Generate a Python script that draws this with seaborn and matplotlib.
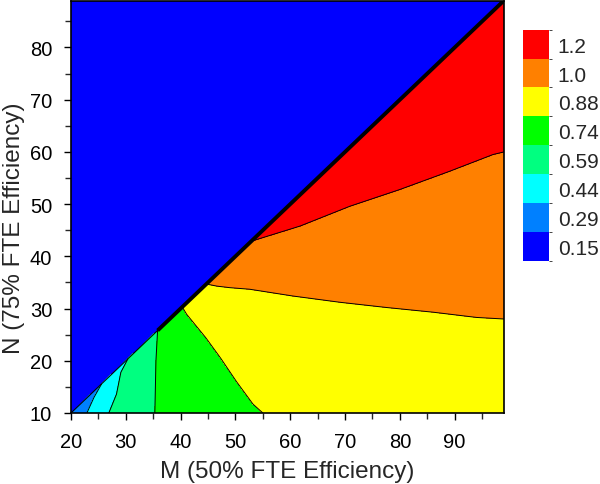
import numpy as np
import matplotlib
matplotlib.use("Agg")
import matplotlib.pyplot as plt
import matplotlib.tri as mtri
from matplotlib.colors import BoundaryNorm, ListedColormap
from matplotlib.cm import ScalarMappable
import seaborn as sns

# contour levels, legend labels and band colours (bottom to top)
levels = [0.15, 0.29, 0.44, 0.59, 0.74, 0.88, 1.0, 1.2, 2.0]
level_labels = ["0.15", "0.29", "0.44", "0.59", "0.74", "0.88", "1.0", "1.2"]
band_colors = ["#0000FF", "#0080FF", "#00FFFF", "#00FF80",
               "#00FF00", "#FFFF00", "#FF8000", "#FF0000"]

# values: points (M, N) on each contour line
c044_m = [22.9, 24.2, 25.6]
c044_n = [10.0, 13.0, 15.6]
c059_m = [26.9, 28.3, 29.1, 30.4]
c059_n = [10.0, 13.6, 17.8, 20.4]
c074_m = [35.3, 35.4, 35.5, 35.8]
c074_n = [10.0, 15.0, 20.0, 25.8]
c088_m = [55.0, 53.2, 52.9, 50.2, 49.6, 47.3, 44.6, 41.1, 40.3]
c088_n = [10.0, 11.7, 14.6, 16.0, 17.8, 20.5, 24.4, 28.9, 30.3]
c100_m = [44.7, 46.6, 49.0, 52.6, 60.5, 69.1, 77.6, 86.1, 94.0, 99.0]
c100_n = [34.7, 34.3, 34.0, 33.7, 32.4, 31.2, 30.2, 29.3, 28.3, 28.0]
c120_m = [52.9, 61.8, 70.9, 80.0, 89.1, 97.0, 99.0]
c120_n = [42.9, 45.8, 49.6, 52.8, 56.3, 59.5, 60.0]

# corners of the computed (lower) triangle and their estimated values
edge_m = [20.0, 99.0, 99.0, 75.0]
edge_n = [10.0, 10.0, 89.0, 65.0]
edge_z = [0.30, 0.96, 1.50, 1.38]

# diagonal N = M - 10 limiting the computed region
diag_m = [20, 35.8, 99]
diag_n = [10, 25.8, 89]

lines = [(c044_m, c044_n, 0.44), (c059_m, c059_n, 0.59), (c074_m, c074_n, 0.74),
         (c088_m, c088_n, 0.88), (c100_m, c100_n, 1.0), (c120_m, c120_n, 1.2)]
m_all = list(edge_m)
n_all = list(edge_n)
z_all = list(edge_z)
for lm, ln, lz in lines:
    m_all += lm
    n_all += ln
    z_all += [lz] * len(lm)

sns.set_style("ticks")
plt.rcParams['font.family'] = ['Liberation Sans', 'DejaVu Sans']

cmap = ListedColormap(sns.color_palette(band_colors))
norm = BoundaryNorm(levels, cmap.N)

fig = plt.figure(figsize=(6, 4.85), dpi=100)
ax = fig.add_axes([0.1183, 0.1464, 0.7217, 0.8505])
ax.set_facecolor(band_colors[0])

tri = mtri.Triangulation(m_all, n_all)
ax.tricontourf(tri, z_all, levels=levels, cmap=cmap, norm=norm)
ax.tricontour(tri, z_all, levels=levels[1:-1], colors="k", linewidths=0.7)

# diagonal edge: thin at the lower end, thick above
ax.plot(diag_m[:2], diag_n[:2], color="k", lw=0.8)
ax.plot(diag_m[1:], diag_n[1:], color="k", lw=2.8, solid_capstyle="butt")

ax.set_xlim(20, 99)
ax.set_ylim(10, 89)
ax.set_xticks(np.arange(20, 100, 10))
ax.set_yticks(np.arange(10, 90, 10))
ax.set_xticks(np.arange(25, 99, 10), minor=True)
ax.set_yticks(np.arange(15, 89, 10), minor=True)
ax.tick_params(which="major", direction="out", length=5, width=1,
               labelsize=14.5, pad=8.5, colors="k")
ax.tick_params(which="minor", direction="out", length=4, width=1)
for s in ax.spines.values():
    s.set_linewidth(1.2)
    s.set_color("k")
    s.set_zorder(5)

ax.set_xlabel("M (50% FTE Efficiency)", fontsize=17.5)
ax.set_ylabel("N (75% FTE Efficiency)", fontsize=17.5)
ax.xaxis.set_label_coords(0.5, -0.115)
ax.yaxis.set_label_coords(-0.106, 0.45)

# legend of levels
cax = fig.add_axes([0.8712, 0.4604, 0.0443, 0.4763])
sm = ScalarMappable(norm=BoundaryNorm(np.arange(9), 8), cmap=cmap)
cb = fig.colorbar(sm, cax=cax, ticks=np.arange(8) + 0.5)
cb.set_ticklabels(level_labels)
cb.outline.set_visible(False)
cax.tick_params(length=0, labelsize=15, pad=6)

fig.savefig("out.png", dpi=100)
